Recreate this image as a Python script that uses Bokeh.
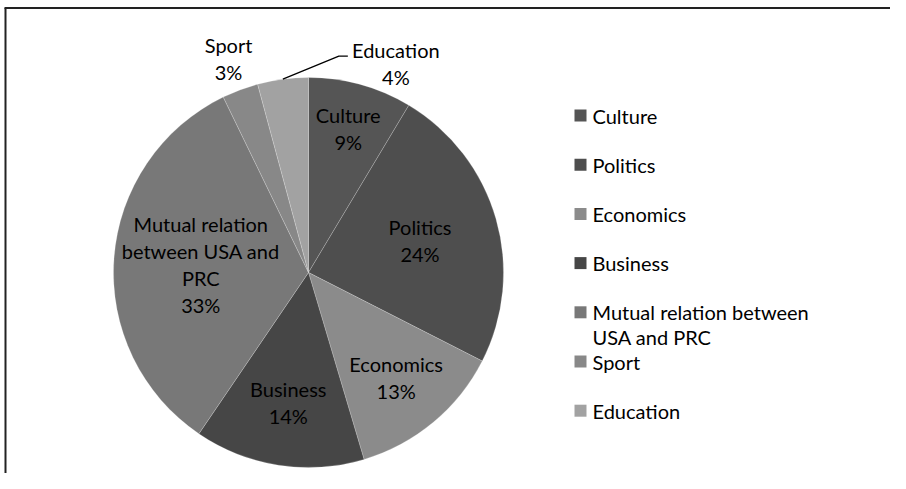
import math
from bokeh.plotting import figure
from bokeh.models import Range1d, ColumnDataSource
from bokeh.core.properties import value
from bokeh.embed import file_html
from bokeh.resources import INLINE

# ---- data ----
categories = ["Culture", "Politics", "Economics", "Business",
              "Mutual relation between USA and PRC", "Sport", "Education"]
shares = [8.6, 23.9, 12.9, 14.1, 33.3, 3.0, 4.2]
colors = ["#555555", "#4e4e4e", "#8b8b8b", "#464646", "#787878", "#888888", "#a2a2a2"]

# ---- layout (pixels) ----
W, H = 890, 473
FONT = "Lato"
FS = "20px"
cx, cy, R = 308, H - 272, 195          # pie centre / radius in plot coords
label_r = [149, 116, 137, 132, 108, 228, None]   # None -> leader-line label
label_wrap = {"Mutual relation between USA and PRC": ["Mutual relation", "between USA and", "PRC"]}
legend_wrap = {"Mutual relation between USA and PRC": ["Mutual relation between", "USA and PRC"]}
LINE = 27

p = figure(width=W, height=H, output_backend="svg", toolbar_location=None,
           x_range=Range1d(0, W), y_range=Range1d(0, H), min_border=0)
p.axis.visible = False
p.grid.visible = False
p.outline_line_color = None
p.background_fill_color = "white"

total = sum(shares)
starts, ends, mids = [], [], []
acc = 0.0
for s in shares:
    a0 = acc / total
    acc += s
    a1 = acc / total
    starts.append(math.pi / 2 - 2 * math.pi * a0)
    ends.append(math.pi / 2 - 2 * math.pi * a1)
    mids.append(2 * math.pi * (a0 + a1) / 2)   # clockwise from 12 o'clock

src = ColumnDataSource(dict(start=starts, end=ends, color=colors))
p.wedge(x=cx, y=cy, radius=R, radius_units="screen", start_angle="start", end_angle="end",
        direction="clock", fill_color="color", line_color="white", line_alpha=0.2,
        line_width=1, source=src)

# ---- data labels ----
for cat, s, m, r in zip(categories, shares, mids, label_r):
    lines = label_wrap.get(cat, [cat]) + [f"{round(s)}%"]
    if r is None:
        # leader line from arc to label
        sx, sy = cx + R * math.sin(m), cy + R * math.cos(m)
        ex, ey = sx + 56, sy + 23
        p.line(x=[sx, ex, ex + 9], y=[sy, ey, ey], line_color="black", line_width=1.3)
        lx = ex + 9 + 48
        for i, t in enumerate(lines):
            p.text(x=[lx], y=[ey + 6 - i * LINE], text=[t], text_align="center",
                   text_baseline="middle", text_font=value(FONT), text_font_size=FS,
                   text_color="black")
        continue
    px, py = cx + r * math.sin(m), cy + r * math.cos(m)
    n = len(lines)
    for i, t in enumerate(lines):
        yy = py + (n - 1) * LINE / 2 - i * LINE
        p.text(x=[px], y=[yy], text=[t], text_align="center", text_baseline="middle",
               text_font=value(FONT), text_font_size=FS, text_color="black")

# ---- legend ----
lg_x, lg_y0, lg_step = 580, H - 115, 49.2
for k, (cat, col) in enumerate(zip(categories, colors)):
    ry = lg_y0 - k * lg_step
    p.scatter(x=[lg_x], y=[ry], marker="square", size=12, fill_color=col, line_color=None)
    for i, t in enumerate(legend_wrap.get(cat, [cat])):
        p.text(x=[lg_x + 12], y=[ry - i * 25], text=[t], text_align="left",
               text_baseline="middle", text_font=value(FONT), text_font_size=FS,
               text_color="black")

# ---- frame (top and left edges) ----
p.line(x=[4, W], y=[H - 7.5, H - 7.5], line_color="#222222", line_width=2)
p.line(x=[5, 5], y=[0, H - 7.5], line_color="#222222", line_width=2)

open("out.html", "w").write(file_html(p, INLINE))
